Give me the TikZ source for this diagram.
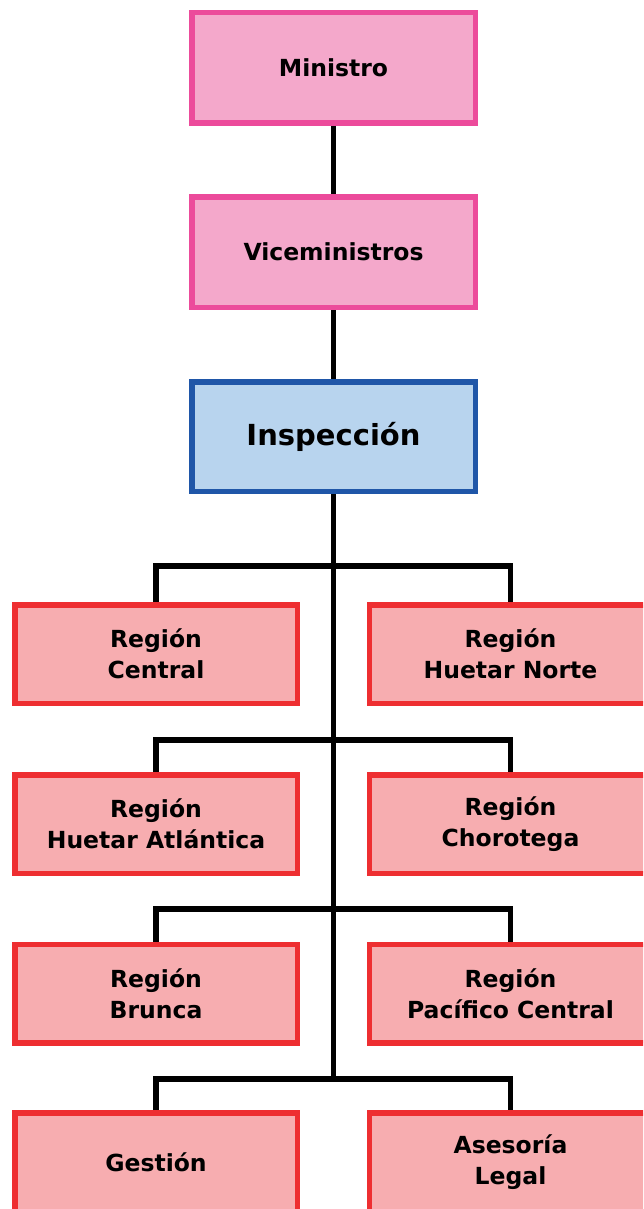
\documentclass[tikz,border=0pt]{standalone}
\usepackage{fontspec}
\setmainfont{DejaVu Sans}
\definecolor{pinkfill}{HTML}{F4A8CB}
\definecolor{pinkline}{HTML}{EC4B9B}
\definecolor{bluefill}{HTML}{B8D4EE}
\definecolor{blueline}{HTML}{1F56A8}
\definecolor{redfill}{HTML}{F7ADB0}
\definecolor{redline}{HTML}{EE2E31}
\begin{document}
\begin{tikzpicture}[x=1pt,y=-1pt,
  box/.style={rectangle, line width=5.5pt, align=center, inner sep=0pt,
    font=\fontsize{23.5}{31}\selectfont\bfseries, text=black},
  topbox/.style={box, draw=pinkline, fill=pinkfill, minimum width=283.5pt, minimum height=110.5pt},
  inspbox/.style={box, draw=blueline, fill=bluefill, minimum width=283.5pt, minimum height=109.5pt,
    font=\fontsize{29}{35}\selectfont\bfseries},
  regbox/.style={box, draw=redline, fill=redfill, minimum width=282.5pt, minimum height=98.5pt},
  conn/.style={draw=black, line width=5.5pt, line join=miter}]
\clip (0,0) rectangle (643,1209);
\useasboundingbox (0,0) rectangle (643,1209);

\node[topbox] (min) at (333.5,68) {Ministro};
\node[topbox] (vice) at (333.5,252) {Viceministros};
\node[inspbox] (insp) at (333.5,436.5) {Inspección};

\node[regbox] (l1) at (156,654) {Región\\Central};
\node[regbox] (r1) at (510.5,654) {Región\\Huetar Norte};
\node[regbox] (l2) at (156,824) {Región\\Huetar Atlántica};
\node[regbox] (r2) at (510.5,824) {Región\\Chorotega};
\node[regbox] (l3) at (156,993.5) {Región\\Brunca};
\node[regbox] (r3) at (510.5,993.5) {Región\\Pacífico Central};
\node[regbox] (l4) at (156,1162) {Gestión};
\node[regbox] (r4) at (510.5,1162) {Asesoría\\Legal};

\coordinate (j1) at (333.5,566);
\coordinate (j2) at (333.5,740);
\coordinate (j3) at (333.5,909);
\coordinate (j4) at (333.5,1079);

\draw[conn] (min.south) -- (vice.north);
\draw[conn] (vice.south) -- (insp.north);
\draw[conn] (insp.south) -- (j4);
\draw[conn] (l1.north) |- (j1) -| (r1.north);
\draw[conn] (l2.north) |- (j2) -| (r2.north);
\draw[conn] (l3.north) |- (j3) -| (r3.north);
\draw[conn] (l4.north) |- (j4) -| (r4.north);
\end{tikzpicture}
\end{document}
